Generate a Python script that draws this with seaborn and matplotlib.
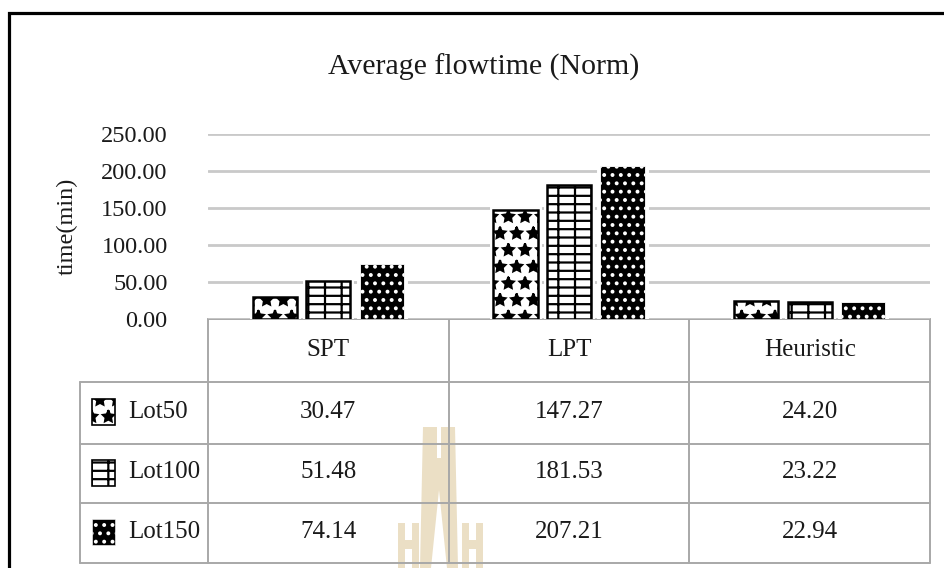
import matplotlib
matplotlib.use("Agg")
import matplotlib.pyplot as plt
import matplotlib.patheffects as pe
from matplotlib.patches import Rectangle, Polygon
from matplotlib.transforms import blended_transform_factory
import pandas as pd
import seaborn as sns

# ---- data -------------------------------------------------------------
methods = ["SPT", "LPT", "Heuristic"]
lots = ["Lot50", "Lot100", "Lot150"]
lot50 = [30.47, 147.27, 24.20]
lot100 = [51.48, 181.53, 23.22]
lot150 = [74.14, 207.21, 22.94]
y_ticks = [0, 50, 100, 150, 200, 250]

series = {"Lot50": lot50, "Lot100": lot100, "Lot150": lot150}
df = pd.DataFrame(
    [(m, lot, v) for lot, vals in series.items() for m, v in zip(methods, vals)],
    columns=["method", "lot", "minutes"],
)

# fill / hatch style of each lot size
styles = {
    "Lot50": dict(face="white", edge="black", hatch="*", lw=1.8),
    "Lot100": dict(face="white", edge="black", hatch="--|", lw=1.8),
    "Lot150": dict(face="black", edge="white", hatch="..", lw=0.6),
}

# ---- theme ------------------------------------------------------------
sns.set_theme(style="white")
plt.rcParams["font.family"] = ["Liberation Serif", "DejaVu Serif"]
plt.rcParams["hatch.linewidth"] = 1.6
TXT = "#1a1a1a"
LINE = "#a8a8a8"

W, H = 944, 568
fig = plt.figure(figsize=(W / 100, H / 100), dpi=100)

# full-figure layer in pixel units for frame, title and data table
px = fig.add_axes([0, 0, 1, 1])
px.set_xlim(0, W)
px.set_ylim(H, 0)
px.set_autoscale_on(False)
px.axis("off")

# ---- bar chart --------------------------------------------------------
ax = fig.add_axes([208 / W, 1 - 319 / H, 722 / W, (319 - 134.5) / H])
ax.set_facecolor("none")
sns.barplot(
    data=df, x="method", y="minutes", hue="lot",
    order=methods, hue_order=lots, width=0.667, gap=0.175,
    errorbar=None, legend=False, ax=ax, zorder=3,
)
ax.set_xlim(-0.5, len(methods) - 0.5)
ax.set_ylim(y_ticks[0], y_ticks[-1])
ax.set_yticks(y_ticks)
ax.set_yticklabels([f"{t:.2f}" for t in y_ticks])
ax.grid(axis="y", color="#c9c9c9", lw=2)
ax.set_axisbelow(True)
for s in ax.spines.values():
    s.set_visible(False)
ax.tick_params(axis="y", length=0, pad=29, labelsize=17.5, labelcolor=TXT)
ax.tick_params(axis="x", bottom=False, labelbottom=False)
ax.set_xlabel("")
ax.set_ylabel("time(min)", fontsize=17.5, color=TXT, va="center")
ax.yaxis.set_label_coords((67 - 208) / 722, 0.5)

halo = [pe.Stroke(linewidth=5, foreground="white"), pe.Normal()]
for lot, cont in zip(lots, ax.containers):
    st = styles[lot]
    for bar in cont:
        bar.set_facecolor(st["face"])
        bar.set_edgecolor(st["edge"])
        bar.set_hatch(st["hatch"])
        bar.set_linewidth(st["lw"])
        bar.set_path_effects(halo)

# ---- title and outer frame --------------------------------------------
px.text(484, 75, "Average flowtime (Norm)", fontsize=21.5, color=TXT,
        ha="center", va="baseline")
px.plot([9, 9, W + 5], [H + 5, 13, 13], color="black", lw=2.3,
        solid_joinstyle="miter", zorder=5)

# faint crest in the background
crest = "#ebdfc5"
px.add_patch(Polygon([(423, 427), (437, 427), (437, 458), (441, 458), (441, 427),
                      (455, 427), (458, 568), (447, 568), (439, 490), (431, 568),
                      (420, 568)], closed=True, facecolor=crest, edgecolor="none", zorder=0))
for x0 in (398, 462):
    px.add_patch(Polygon([(x0, 523), (x0 + 7, 523), (x0 + 7, 540), (x0 + 14, 540),
                          (x0 + 14, 523), (x0 + 21, 523), (x0 + 21, 568), (x0 + 14, 568),
                          (x0 + 14, 549), (x0 + 7, 549), (x0 + 7, 568), (x0, 568)],
                         closed=True, facecolor=crest, edgecolor="none", zorder=0))

# ---- data table under the bars ----------------------------------------
tb = blended_transform_factory(ax.transData, px.transData)
x_right = ax.transData.transform((len(methods) - 0.5, 0))[0]
header_top, header_mid = 319, 350
row_edges = [382, 444, 503, 563]
label_left = 80

for b in [i - 0.5 for i in range(len(methods) + 1)]:
    px.plot([b, b], [header_top, row_edges[-1]], transform=tb,
            color=LINE, lw=1.4, zorder=2)
px.plot([-0.5, len(methods) - 0.5], [header_top, header_top], transform=tb,
        color=LINE, lw=1.4, zorder=2)
for y in row_edges:
    px.plot([label_left, x_right], [y, y], color=LINE, lw=1.4, zorder=2)
px.plot([label_left, label_left], [row_edges[0], row_edges[-1]], color=LINE,
        lw=1.4, zorder=2)

for i, m in enumerate(methods):
    px.text(i, header_mid, m, transform=tb, fontsize=18, color=TXT,
            ha="center", va="center", zorder=4)

for r, lot in enumerate(lots):
    yc = (row_edges[r] + row_edges[r + 1]) / 2 - 1
    st = styles[lot]
    px.add_patch(Rectangle((92, yc - 13), 23, 26, facecolor=st["face"],
                           edgecolor=st["edge"], hatch=st["hatch"],
                           lw=1.2 if st["face"] == "white" else 0.4, zorder=3))
    px.text(128, yc, lot, fontsize=18, color=TXT, ha="left", va="center", zorder=4)
    for i, v in enumerate(series[lot]):
        px.text(i, yc, f"{v:.2f}", transform=tb, fontsize=18, color=TXT,
                ha="center", va="center", zorder=4)

fig.savefig("out.png", dpi=100)
